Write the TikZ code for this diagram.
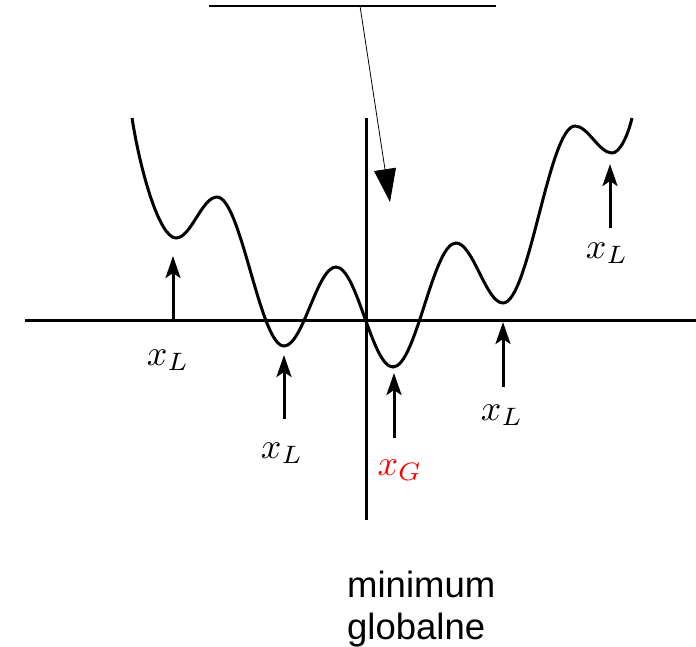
\documentclass[tikz,border=0pt]{standalone}
\usepackage{fontspec}
\setsansfont{Liberation Sans}
\usetikzlibrary{arrows.meta}
\begin{document}
\begin{tikzpicture}[x=1pt,y=-1pt,
  curve/.style={line width=3pt},
  axis/.style={line width=3pt},
  marker/.style={line width=3pt,-{Stealth[length=22pt,width=15pt,inset=5pt]}},
  pointer/.style={line width=0.8pt,-{Triangle[length=33pt,width=22pt]}},
  lbl/.style={font=\fontsize{10}{12}\selectfont, inner sep=0pt, scale=3.6},
  caption/.style={font=\sffamily\fontsize{36.5}{42}\selectfont, inner sep=0pt, anchor=base west}
]
\useasboundingbox (0,0) rectangle (696,646);
% axes
\coordinate (hl) at (25,320); \coordinate (hr) at (696,320);
\coordinate (vt) at (366,118); \coordinate (vb) at (366,520);
\draw[axis] (hl) -- (hr);
\draw[axis] (vt) -- (vb);
% curve
\draw[curve] (132,118) .. controls (141,175) and (160,238) .. (176,238)
  .. controls (191,238) and (202,197) .. (217,197)
  .. controls (241,197) and (260,346) .. (284,346)
  .. controls (303,346) and (317,267) .. (336,267)
  .. controls (357,267) and (372,367) .. (393,367)
  .. controls (416,367) and (433,243) .. (456,243)
  .. controls (473,243) and (486,303) .. (503,303)
  .. controls (529,303) and (549,126) .. (575,126)
  .. controls (588,126) and (599,153) .. (612,153)
  .. controls (620,153) and (628,135) .. (632,118);
% top line and pointer
\coordinate (tl) at (209,6); \coordinate (tr) at (496,6);
\coordinate (ps) at (360,6); \coordinate (pt) at (390,202);
\draw[line width=1.5pt] (tl) -- (tr);
\draw[pointer] (ps) -- (pt);
% markers
\coordinate (a1b) at (173,320); \coordinate (a1t) at (173,256);
\coordinate (a2b) at (284,419); \coordinate (a2t) at (284,355);
\coordinate (a3b) at (394,438); \coordinate (a3t) at (394,373);
\coordinate (a4b) at (503,387); \coordinate (a4t) at (503,322);
\coordinate (a5b) at (610,228); \coordinate (a5t) at (610,164);
\draw[marker] (a1b) -- (a1t);
\draw[marker] (a2b) -- (a2t);
\draw[marker] (a3b) -- (a3t);
\draw[marker] (a4b) -- (a4t);
\draw[marker] (a5b) -- (a5t);
% labels
\node[lbl] (l1) at (168,360) {$x_L$};
\node[lbl] (l2) at (282,453) {$x_L$};
\node[lbl,text=red] (l3) at (400,470) {$x_G$};
\node[lbl] (l4) at (502,415) {$x_L$};
\node[lbl] (l5) at (607,253) {$x_L$};
\node[caption] (c1) at (347,597) {minimum};
\node[caption] (c2) at (347,639) {globalne};
\end{tikzpicture}
\end{document}
